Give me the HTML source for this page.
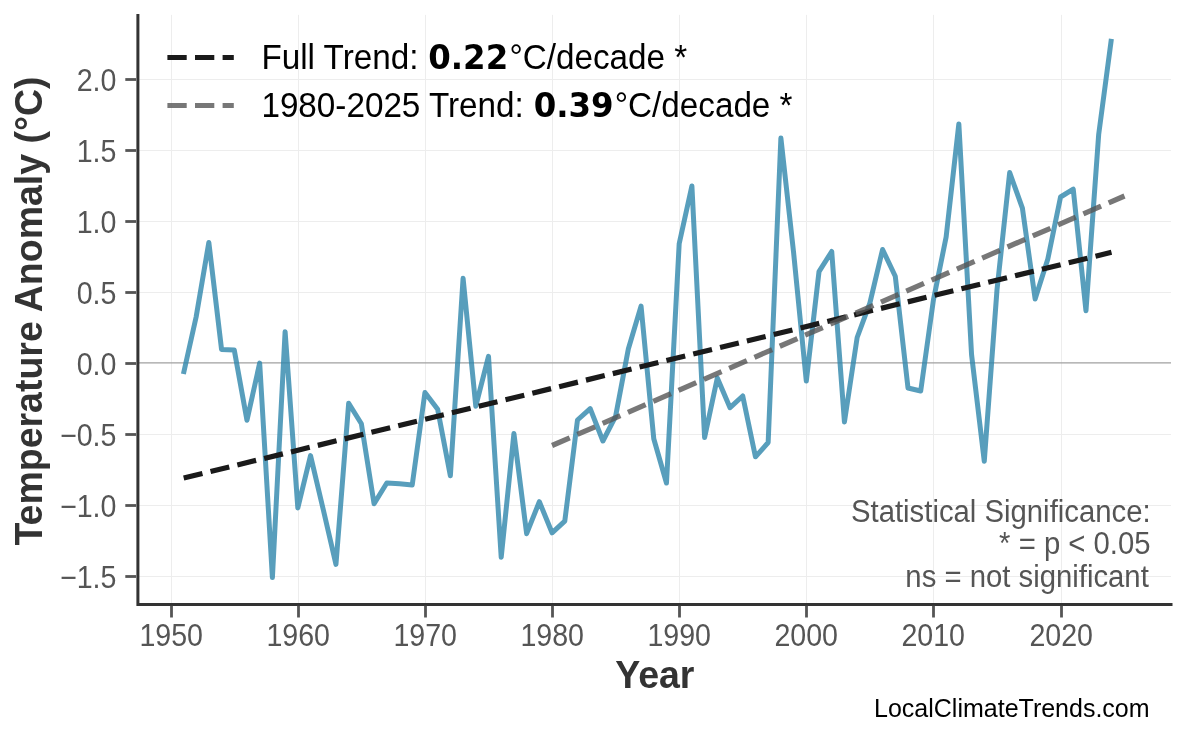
<!DOCTYPE html>
<html lang="en"><head><meta charset="utf-8"><title>Temperature Anomaly Trend</title>
<style>
html,body{margin:0;padding:0;background:#fff;}
body{width:1186px;height:737px;overflow:hidden;}
svg{display:block;}
text{font-family:"Liberation Sans",sans-serif;}
.tick{font-size:28.6px;fill:#555;}
.lab{font-size:37.5px;font-weight:bold;fill:#333;}
.leg{font-size:33.25px;fill:#000;}
.leg .b{font-family:"DejaVu Sans",sans-serif;font-weight:bold;font-size:0.975em;}
.ann{font-size:29.3px;fill:#555;}
.credit{font-size:25.0px;fill:#000;}
</style></head><body>
<svg width="1186" height="737" viewBox="0 0 1186 737">
<rect width="1186" height="737" fill="#fff"/>
<g stroke="#ededed" stroke-width="1" fill="none">
<line x1="171.5" y1="14.9" x2="171.5" y2="604.2"/>
<line x1="298.5" y1="14.9" x2="298.5" y2="604.2"/>
<line x1="425.5" y1="14.9" x2="425.5" y2="604.2"/>
<line x1="552.5" y1="14.9" x2="552.5" y2="604.2"/>
<line x1="679.5" y1="14.9" x2="679.5" y2="604.2"/>
<line x1="806.5" y1="14.9" x2="806.5" y2="604.2"/>
<line x1="933.5" y1="14.9" x2="933.5" y2="604.2"/>
<line x1="1061.5" y1="14.9" x2="1061.5" y2="604.2"/>
<line x1="137.7" y1="79.5" x2="1171.0" y2="79.5"/>
<line x1="137.7" y1="150.5" x2="1171.0" y2="150.5"/>
<line x1="137.7" y1="221.5" x2="1171.0" y2="221.5"/>
<line x1="137.7" y1="292.5" x2="1171.0" y2="292.5"/>
<line x1="137.7" y1="434.5" x2="1171.0" y2="434.5"/>
<line x1="137.7" y1="505.5" x2="1171.0" y2="505.5"/>
<line x1="137.7" y1="576.5" x2="1171.0" y2="576.5"/>
</g>
<line x1="137.7" y1="362.9" x2="1171.0" y2="362.9" stroke="#a0a0a0" stroke-width="1.4"/>
<polyline points="183.41,374.00 196.12,317.00 208.84,242.50 221.55,349.40 234.26,350.00 246.97,420.20 259.68,363.10 272.40,577.50 285.11,331.70 297.82,507.90 310.53,455.60 323.24,509.50 335.96,564.40 348.67,403.30 361.38,423.80 374.09,503.80 386.80,483.00 399.52,483.70 412.23,485.00 424.94,392.50 437.65,409.20 450.36,475.80 463.08,278.30 475.79,406.20 488.50,356.30 501.21,557.30 513.92,433.60 526.64,533.70 539.35,501.70 552.06,532.80 564.77,521.20 577.48,420.00 590.20,408.60 602.91,441.00 615.62,416.30 628.33,349.00 641.04,306.10 653.76,438.70 666.47,483.00 679.18,243.80 691.89,186.00 704.60,437.60 717.32,378.00 730.03,407.70 742.74,396.00 755.45,456.80 768.16,442.50 780.88,138.00 793.59,252.50 806.30,381.10 819.01,271.60 831.72,251.50 844.44,422.00 857.15,337.50 869.86,303.10 882.57,249.50 895.28,276.30 908.00,388.00 920.71,391.00 933.42,300.00 946.13,237.00 958.84,123.90 971.56,354.60 984.27,461.20 996.98,290.00 1009.69,172.60 1022.40,208.10 1035.12,299.00 1047.83,259.00 1060.54,197.00 1073.25,189.20 1085.96,310.70 1098.68,134.50 1111.39,38.90" fill="none" stroke="#2E86AB" stroke-opacity="0.8" stroke-width="5" stroke-linejoin="round" stroke-linecap="butt"/>
<line x1="183.7" y1="478.0" x2="1111.5" y2="252.3" stroke="#1a1a1a" stroke-width="5.2" stroke-dasharray="19.3 8.3"/>
<line x1="552.06" y1="445.5" x2="1124.5" y2="196.0" stroke="#555" stroke-opacity="0.8" stroke-width="5.2" stroke-dasharray="19.3 8.3"/>
<path d="M137.89999999999998 15.4 V604.5 H1171.0" fill="none" stroke="#333" stroke-width="3.0" stroke-linecap="square" stroke-linejoin="miter"/>
<g stroke="#555" stroke-width="2.8">
<line x1="171.5" y1="605.8000000000001" x2="171.5" y2="617.5"/>
<line x1="298.5" y1="605.8000000000001" x2="298.5" y2="617.5"/>
<line x1="425.5" y1="605.8000000000001" x2="425.5" y2="617.5"/>
<line x1="552.5" y1="605.8000000000001" x2="552.5" y2="617.5"/>
<line x1="679.5" y1="605.8000000000001" x2="679.5" y2="617.5"/>
<line x1="806.5" y1="605.8000000000001" x2="806.5" y2="617.5"/>
<line x1="933.5" y1="605.8000000000001" x2="933.5" y2="617.5"/>
<line x1="1061.5" y1="605.8000000000001" x2="1061.5" y2="617.5"/>
<line x1="136.1" y1="79.5" x2="125.29999999999998" y2="79.5"/>
<line x1="136.1" y1="150.5" x2="125.29999999999998" y2="150.5"/>
<line x1="136.1" y1="221.5" x2="125.29999999999998" y2="221.5"/>
<line x1="136.1" y1="292.5" x2="125.29999999999998" y2="292.5"/>
<line x1="136.1" y1="363.5" x2="125.29999999999998" y2="363.5"/>
<line x1="136.1" y1="434.5" x2="125.29999999999998" y2="434.5"/>
<line x1="136.1" y1="505.5" x2="125.29999999999998" y2="505.5"/>
<line x1="136.1" y1="576.5" x2="125.29999999999998" y2="576.5"/>
</g>
<text class="tick" transform="translate(171.20 646.40) scale(1 1.08)" text-anchor="middle">1950</text>
<text class="tick" transform="translate(298.20 646.40) scale(1 1.08)" text-anchor="middle">1960</text>
<text class="tick" transform="translate(425.20 646.40) scale(1 1.08)" text-anchor="middle">1970</text>
<text class="tick" transform="translate(552.20 646.40) scale(1 1.08)" text-anchor="middle">1980</text>
<text class="tick" transform="translate(679.20 646.40) scale(1 1.08)" text-anchor="middle">1990</text>
<text class="tick" transform="translate(806.20 646.40) scale(1 1.08)" text-anchor="middle">2000</text>
<text class="tick" transform="translate(933.20 646.40) scale(1 1.08)" text-anchor="middle">2010</text>
<text class="tick" transform="translate(1061.20 646.40) scale(1 1.08)" text-anchor="middle">2020</text>
<text class="tick" transform="translate(116.40 91.10) scale(1 1.08)" text-anchor="end">2.0</text>
<text class="tick" transform="translate(116.40 162.10) scale(1 1.08)" text-anchor="end">1.5</text>
<text class="tick" transform="translate(116.40 233.10) scale(1 1.08)" text-anchor="end">1.0</text>
<text class="tick" transform="translate(116.40 304.10) scale(1 1.08)" text-anchor="end">0.5</text>
<text class="tick" transform="translate(116.40 375.10) scale(1 1.08)" text-anchor="end">0.0</text>
<text class="tick" transform="translate(116.40 446.10) scale(1 1.08)" text-anchor="end">−0.5</text>
<text class="tick" transform="translate(116.40 517.10) scale(1 1.08)" text-anchor="end">−1.0</text>
<text class="tick" transform="translate(116.40 588.10) scale(1 1.08)" text-anchor="end">−1.5</text>
<text class="lab" transform="translate(654.80 688.20) scale(1 1.03)" text-anchor="middle">Year</text>
<text class="lab" transform="translate(42.00 311.00) rotate(-90) scale(1 1.03)" text-anchor="middle">Temperature Anomaly (°C)</text>
<g stroke-width="5.2" stroke-dasharray="19.3 8.3">
<line x1="167.4" y1="57.5" x2="233.8" y2="57.5" stroke="#1a1a1a"/>
<line x1="167.4" y1="105.5" x2="233.8" y2="105.5" stroke="#555" stroke-opacity="0.8"/>
</g>
<text class="leg" transform="translate(261.40 68.90) scale(1 1.05)">Full Trend: <tspan class="b" dx="0.6">0.22</tspan><tspan dx="1.2">°C/decade *</tspan></text>
<text class="leg" transform="translate(261.40 117.30) scale(1 1.05)">1980-2025 Trend: <tspan class="b" dx="0.6">0.39</tspan><tspan dx="1.2">°C/decade *</tspan></text>
<text class="ann" transform="translate(1150.60 522.20) scale(1 1.06)" text-anchor="end">Statistical Significance:</text>
<text class="ann" transform="translate(1150.60 554.30) scale(1 1.06)" text-anchor="end">* = p &lt; 0.05</text>
<text class="ann" transform="translate(1148.80 587.20) scale(1 1.06)" text-anchor="end">ns = not significant</text>
<text class="credit" transform="translate(1149.60 716.60)" text-anchor="end">LocalClimateTrends.com</text>
</svg></body></html>
